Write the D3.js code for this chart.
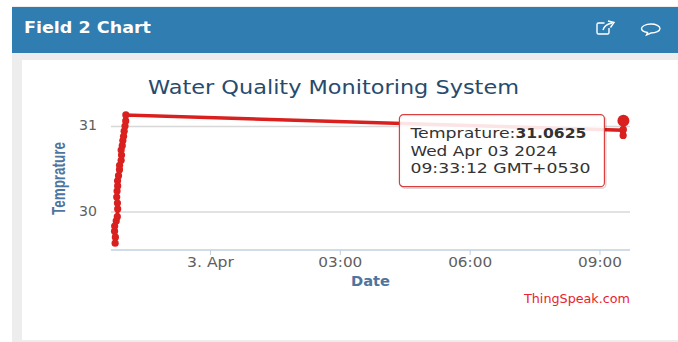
<!DOCTYPE html>
<html>
<head>
  <meta charset="UTF-8">
  <style>
    *{ margin: 0px; }
    body{ background-color: white; overflow: hidden; }
    svg{ position: absolute; left: 0; top: 0; font-family: "DejaVu Sans"; }
    .tick text{ font-family: "DejaVu Sans"; }
  </style>
  <script src="https://d3js.org/d3.v7.min.js"></script>
</head>
<body>
  <svg id="chart" width="678" height="342"></svg>

  <script>
    // readings
    var times = [
      "2024-04-02T21:48:30Z", "2024-04-02T21:48:50Z", "2024-04-02T21:47:40Z", "2024-04-02T21:47:50Z",
      "2024-04-02T21:50:00Z", "2024-04-02T21:51:30Z", "2024-04-02T21:52:00Z", "2024-04-02T21:51:40Z",
      "2024-04-02T21:50:40Z", "2024-04-02T21:51:10Z", "2024-04-02T21:52:00Z", "2024-04-02T21:51:50Z",
      "2024-04-02T21:53:10Z", "2024-04-02T21:54:30Z", "2024-04-02T21:54:40Z", "2024-04-02T21:56:50Z",
      "2024-04-02T21:57:20Z", "2024-04-02T21:56:50Z", "2024-04-02T21:58:20Z", "2024-04-02T21:59:10Z",
      "2024-04-02T22:00:10Z", "2024-04-02T22:01:00Z", "2024-04-02T22:02:10Z", "2024-04-02T22:03:10Z",
      "2024-04-02T22:03:20Z", "2024-04-03T09:32:30Z", "2024-04-03T09:32:50Z", "2024-04-03T09:33:00Z",
      "2024-04-03T09:33:12Z"
    ];
    var temps = [
      29.63, 29.70, 29.77, 29.83,
      29.89, 29.94, 30.03, 30.10,
      30.17, 30.24, 30.30, 30.36,
      30.42, 30.49, 30.54, 30.60,
      30.66, 30.72, 30.77, 30.83,
      30.88, 30.94, 31.00, 31.06,
      31.13, 30.95, 30.89, 30.96,
      31.0625
    ];
    var xTicks = ["2024-04-03T00:00:00Z", "2024-04-03T03:00:00Z", "2024-04-03T06:00:00Z", "2024-04-03T09:00:00Z"];
    var xLabels = ["3. Apr", "03:00", "06:00", "09:00"];
    var yTicks = [30, 31];
    var tipLines = ["Temprature:", "Wed Apr 03 2024", "09:33:12 GMT+0530"];
    var tipValue = "31.0625";

    var svg = d3.select("#chart");

    // the reference text runs wider than the font, so each string gets its measured width
    function stretch(sel, width){
      return sel.attr("textLength", width).attr("lengthAdjust", "spacingAndGlyphs");
    }

    var x = d3.scaleUtc()
      .domain([new Date("2024-04-02T21:42:45Z"), new Date("2024-04-03T09:42:20Z")])
      .range([111, 630]);
    var y = d3.scaleLinear()
      .domain([29.55, 31.3])
      .range([250, 100.4]);

    // panel
    svg.append("rect").attr("x", 12).attr("y", 6).attr("width", 666).attr("height", 336).attr("fill", "#ededed");
    svg.append("rect").attr("x", 22).attr("y", 60).attr("width", 656).attr("height", 280).attr("fill", "white");
    svg.append("rect").attr("x", 12).attr("y", 7).attr("width", 666).attr("height", 46).attr("fill", "#2f7db1");
    svg.append("text").attr("x", 24).attr("y", 33).attr("fill", "white")
      .attr("font-size", 15).attr("font-weight", "bold").text("Field 2 Chart").call(stretch, 127);

    // header icons
    var icons = svg.append("g").attr("fill", "none").attr("stroke", "white").attr("stroke-width", 1.4);
    icons.append("path").attr("d", "M609 28v4.500a1.500 1.500 0 0 1-1.500 1.500h-9a1.500 1.500 0 0 1-1.500-1.500v-8a1.500 1.500 0 0 1 1.500-1.500h6");
    icons.append("path").attr("d", "M603 30c1-4 4-6 9-7M608 21l6 1.500-3.500 5");
    icons.append("path").attr("d", "M651 24c5 0 9 2 9 4.500s-4 4.500-9 4.500l-4.500 2 1-2.500c-3-.5-6-2-6-4s4-4.500 9.500-4.500z");

    // axes
    var gy = svg.append("g")
      .attr("transform", "translate(111,0)")
      .call(d3.axisLeft(y).tickValues(yTicks).tickSize(-519).tickPadding(14).tickFormat(d3.format("d")));
    gy.select(".domain").remove();
    gy.selectAll(".tick line").attr("stroke", "#d8d8d8").attr("stroke-width", 1.5);
    gy.selectAll(".tick text").attr("fill", "#606060").attr("font-size", 13.5).attr("dy", "0.27em").call(stretch, 18);

    var gx = svg.append("g")
      .attr("transform", "translate(0,250)")
      .call(d3.axisBottom(x).tickValues(xTicks.map(d => new Date(d))).tickSize(5).tickPadding(2)
        .tickFormat((d, i) => xLabels[i]));
    gx.select(".domain").attr("stroke", "#c0d0e0").attr("stroke-width", 1.5).attr("d", "M111,0H630");
    gx.selectAll(".tick line").attr("stroke", "#c0d0e0");
    gx.selectAll(".tick text").attr("fill", "#606060").attr("font-size", 13.5)
      .each(function(d, i){ d3.select(this).call(stretch, i === 0 ? 47 : 44); });

    // titles
    svg.append("text").attr("x", 333.5).attr("y", 94).attr("text-anchor", "middle")
      .attr("fill", "#274b6d").attr("font-size", 19).text("Water Quality Monitoring System").call(stretch, 371);
    svg.append("text").attr("x", 370.5).attr("y", 286).attr("text-anchor", "middle")
      .attr("fill", "#4d759e").attr("font-size", 14).attr("font-weight", "bold").text("Date").call(stretch, 39);
    svg.append("text").attr("transform", "translate(65,178.5) rotate(-90)").attr("text-anchor", "middle")
      .attr("font-family", "Liberation Sans")
      .attr("fill", "#4d759e").attr("font-size", 19).attr("font-weight", "bold").text("Temprature").call(stretch, 73);
    svg.append("text").attr("x", 630).attr("y", 303).attr("text-anchor", "end")
      .attr("fill", "#e8222e").attr("font-size", 11.5).text("ThingSpeak.com").call(stretch, 106);

    // series
    var points = times.map((t, i) => [x(new Date(t)), y(temps[i])]);
    svg.append("path")
      .attr("d", d3.line()(points))
      .attr("fill", "none")
      .attr("stroke", "#d9201f")
      .attr("stroke-width", 3.5);
    svg.append("g").selectAll("circle")
      .data(points)
      .enter()
      .append("circle")
      .attr("cx", d => d[0])
      .attr("cy", d => d[1])
      .attr("r", (d, i) => i === points.length - 1 ? 6 : 3.6)
      .attr("fill", "#d9201f");

    // tooltip, anchored to the hovered reading
    var last = points[points.length - 1];
    var tip = svg.append("g").attr("transform", "translate(" + (last[0] - 224) + "," + (last[1] - 6) + ")");
    tip.append("rect").attr("x", 1.5).attr("y", 1.5).attr("width", 205).attr("height", 72).attr("rx", 4)
      .attr("fill", "none").attr("stroke", "rgba(0,0,0,0.15)").attr("stroke-width", 1.5);
    tip.append("rect").attr("width", 205).attr("height", 72).attr("rx", 4)
      .attr("fill", "rgba(255,255,255,0.88)").attr("stroke", "#d9403f").attr("stroke-width", 1.2);
    var tipText = tip.append("g").attr("fill", "#333333").attr("font-size", 14.5);
    tipText.append("text").attr("x", 11).attr("y", 23).text(tipLines[0]).call(stretch, 105);
    tipText.append("text").attr("x", 116).attr("y", 23).attr("font-weight", "bold").text(tipValue).call(stretch, 71);
    tipText.append("text").attr("x", 11).attr("y", 41).text(tipLines[1]).call(stretch, 147);
    tipText.append("text").attr("x", 11).attr("y", 58).text(tipLines[2]).call(stretch, 180);
  </script>
</body>
</html>
